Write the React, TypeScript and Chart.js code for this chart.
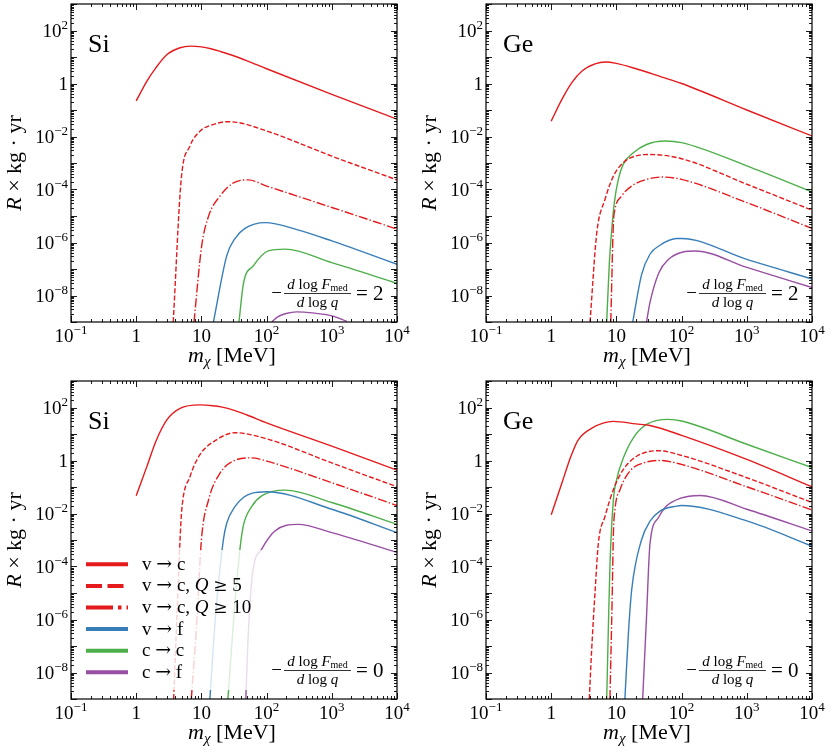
import React, { useEffect, useRef } from 'react';
import { Chart, registerables } from 'chart.js';

Chart.register(...registerables);

type Pt = [number, number]; // [m_chi in MeV, R x kg.yr]

// axis limits
const X_MIN = 1e-1;
const X_MAX = 1e4;
const Y_MIN = 1e-9;
const Y_MAX = 1e3;

const xTickExps = [-1, 0, 1, 2, 3, 4];
const yTickExps = [2, 0, -2, -4, -6, -8];

const legendLabels = [
  'v \u2192 c',
  'v \u2192 c, Q \u2265 5',
  'v \u2192 c, Q \u2265 10',
  'v \u2192 f',
  'c \u2192 c',
  'c \u2192 f',
];

// Si, -dlogF/dlogq = 2
const siS2Vc: Pt[] = [[1, 2.2e-1], [1.46, 1.23], [2, 3.9], [3, 12.6], [4.7, 22.4], [6.8, 25.7], [10, 24], [14, 20.4], [20, 15.8], [32.7, 10.7], [50, 7.2], [100, 3.6], [1000, 3.9e-1], [1e4, 4.5e-2]];
const siS2Q5: Pt[] = [[3.7, 1e-9], [4.9, 2.4e-4], [6.7, 4.4e-3], [9.6, 1.62e-2], [15, 2.8e-2], [24.5, 3.6e-2], [32.7, 3.5e-2], [100, 1.62e-2], [1000, 1.82e-3], [1e4, 2.3e-4]];
const siS2Q10: Pt[] = [[7.7, 1e-9], [10.1, 7.4e-7], [12.9, 1e-5], [19.4, 5.75e-5], [31, 1.78e-4], [52, 2.3e-4], [100, 1.35e-4], [1000, 2.1e-5], [1e4, 3.2e-6]];
const siS2Vf: Pt[] = [[15.3, 1e-9], [24.5, 3.2e-7], [32.7, 1.41e-6], [46.6, 3.4e-6], [95, 5.6e-6], [300, 3.0e-6], [1000, 1.15e-6], [1e4, 1.51e-7]];
const siS2Cc: Pt[] = [[37.7, 1e-9], [44, 2.7e-8], [62.5, 1.32e-7], [106, 4.8e-7], [192, 5.6e-7], [1000, 1.74e-7], [1e4, 2.9e-8]];
const siS2Cf: Pt[] = [[120, 1e-9], [150, 1.6e-9], [200, 2.1e-9], [289, 2.4e-9], [500, 2.2e-9], [1000, 1.7e-9], [1700, 1.05e-9]];

// Ge, -dlogF/dlogq = 2
const geS2Vc: Pt[] = [[1, 3.8e-2], [1.46, 2.5e-1], [2.07, 1.07], [2.97, 2.95], [4.7, 5.5], [6.7, 6.5], [10, 5.75], [20, 3.6], [50, 1.74], [100, 1.0], [1000, 1e-1], [1e4, 1.05e-2]];
const geS2Q5: Pt[] = [[3.94, 1e-9], [5.0, 2.3e-6], [6.7, 4.3e-5], [9.0, 3.2e-4], [12.7, 1.02e-3], [19.3, 1.82e-3], [32.6, 2.1e-3], [100, 1.45e-3], [1000, 1.58e-4], [1e4, 1.66e-5]];
const geS2Q10: Pt[] = [[8.2, 1e-9], [9.0, 5.6e-6], [9.5, 1.78e-5], [12, 5.6e-5], [17.1, 1.35e-4], [29, 2.4e-4], [52, 2.95e-4], [100, 2.4e-4], [1000, 3.2e-5], [1e4, 3.4e-6]];
const geS2Vf: Pt[] = [[17.8, 1e-9], [24.4, 6.3e-8], [32.7, 3.6e-7], [46.6, 7.9e-7], [84, 1.41e-6], [100, 1.41e-6], [1000, 2.3e-7], [1e4, 4.2e-8]];
const geS2Cc: Pt[] = [[7.1, 1e-9], [7.8, 1.74e-7], [8.5, 3.2e-6], [9.3, 3.2e-5], [10.7, 2.4e-4], [12.7, 8.9e-4], [18.2, 2.45e-3], [29, 5.0e-3], [55, 6.8e-3], [100, 5.9e-3], [1000, 7.8e-4], [1e4, 8.1e-5]];
const geS2Cf: Pt[] = [[29, 1e-9], [32.7, 5.4e-9], [45, 7.4e-8], [62.7, 2.3e-7], [105, 4.4e-7], [162, 4.8e-7], [1000, 1.15e-7], [1e4, 2.0e-8]];

// Si, -dlogF/dlogq = 0
const siS0Vc: Pt[] = [[1, 4.7e-2], [1.46, 6.0e-1], [2, 5.25], [2.97, 34.7], [4.7, 93], [9.5, 126], [15, 117], [20, 105], [32.7, 76], [50, 52], [100, 26.3], [1000, 3.47], [1e4, 4.3e-1]];
const siS0Q5: Pt[] = [[3.75, 1e-9], [4.18, 7.9e-7], [4.7, 1e-3], [5.0, 1.38e-2], [6.7, 2.5e-1], [9.5, 1.66], [17, 6.0], [32.7, 11.2], [100, 6.6], [1000, 8.1e-1], [1e4, 1.02e-1]];
const siS0Q10: Pt[] = [[7.0, 1e-9], [8.5, 7.9e-7], [10.0, 1e-3], [12.9, 3.3e-2], [19.4, 3.4e-1], [32.7, 1.02], [59, 1.26], [100, 9.5e-1], [1000, 1.45e-1], [1e4, 2.0e-2]];
const siS0Vf: Pt[] = [[13.5, 1e-9], [16.2, 7.9e-7], [21.7, 1e-3], [24.5, 4.4e-3], [32.7, 1.82e-2], [44, 4.0e-2], [59, 5.75e-2], [100, 6.6e-2], [1000, 1.45e-2], [1e4, 1.9e-3]];
const siS0Cc: Pt[] = [[25.5, 1e-9], [31, 7.9e-7], [39, 4.5e-4], [44, 3.5e-3], [59, 1.82e-2], [84, 4.6e-2], [192, 7.6e-2], [1000, 2.6e-2], [1e4, 3.9e-3]];
const siS0Cf: Pt[] = [[48, 1e-9], [52, 2.0e-7], [61, 5.6e-5], [84, 4.5e-4], [134, 2.2e-3], [305, 3.9e-3], [1000, 1.9e-3], [1e4, 3.4e-4]];

// Ge, -dlogF/dlogq = 0
const geS0Vc: Pt[] = [[1, 8.9e-3], [1.46, 1.41e-1], [2, 1.41], [2.6, 6.0], [4.2, 16.6], [9, 30], [20, 24], [32.7, 20.9], [100, 8.9], [1000, 1.1], [1e4, 1.02e-1]];
const geS0Q5: Pt[] = [[3.84, 1e-9], [4.18, 7.6e-8], [4.7, 1.05e-5], [5.3, 7.9e-4], [6.7, 7.9e-3], [9.0, 8.1e-2], [12.8, 4.6e-1], [20.5, 1.45], [44, 2.34], [100, 1.55], [1000, 2.24e-1], [1e4, 2.6e-2]];
const geS0Q10: Pt[] = [[7.96, 1e-9], [8.6, 5.75e-6], [9.0, 1.9e-3], [9.5, 1.45e-2], [11.4, 8.1e-2], [16.1, 4.0e-1], [26, 8.1e-1], [46.6, 1.0], [100, 7.1e-1], [1000, 1.02e-1], [1e4, 1.35e-2]];
const geS0Vf: Pt[] = [[13.5, 1e-9], [15.3, 3.2e-7], [17.2, 1.38e-5], [24.4, 1.05e-3], [32.7, 5.1e-3], [46.6, 1.23e-2], [84, 1.9e-2], [100, 2.0e-2], [1000, 5.25e-3], [1e4, 5.9e-4]];
const geS0Cc: Pt[] = [[7.1, 1e-9], [7.5, 3.2e-7], [7.96, 1.05e-4], [9.0, 3.4e-2], [10.1, 1.95e-1], [12.8, 1.26], [18.2, 7.2], [29, 22.9], [62.5, 35.5], [100, 30.9], [1000, 4.1], [1e4, 5.4e-1]];
const geS0Cf: Pt[] = [[25.3, 1e-9], [29, 1.35e-6], [32.7, 6.9e-4], [44, 6.9e-3], [58.5, 1.9e-2], [94, 3.7e-2], [192, 4.8e-2], [1000, 1.45e-2], [1e4, 2.2e-3]];

const RED = '#e41a1c';
const BLUE = '#377eb8';
const GREEN = '#4daf4a';
const PURPLE = '#984ea3';

// same order as legendLabels
const curveStyles = [
  { color: RED, dash: [] as number[], legendDash: [] as number[] },
  { color: RED, dash: [5, 2.2], legendDash: [16, 5.5] },
  { color: RED, dash: [9, 2.2, 1.4, 2.2], legendDash: [27, 5, 3.5, 5] },
  { color: BLUE, dash: [], legendDash: [] },
  { color: GREEN, dash: [], legendDash: [] },
  { color: PURPLE, dash: [], legendDash: [] },
];

const SERIF = '"Liberation Serif", "DejaVu Serif", serif';
const ARROW_FONT = '"DejaVu Serif", serif';

type Run = { t: string; size: number; italic?: boolean; dy?: number; family?: string };

function setFont(ctx: CanvasRenderingContext2D, r: Run) {
  ctx.font = `${r.italic ? 'italic ' : ''}${r.size}px ${r.family || SERIF}`;
}

function runsWidth(ctx: CanvasRenderingContext2D, runs: Run[]) {
  let w = 0;
  for (const r of runs) {
    setFont(ctx, r);
    w += ctx.measureText(r.t).width;
  }
  return w;
}

function drawRuns(ctx: CanvasRenderingContext2D, runs: Run[], x: number, y: number) {
  let cx = x;
  for (const r of runs) {
    setFont(ctx, r);
    ctx.fillText(r.t, cx, y + (r.dy || 0));
    cx += ctx.measureText(r.t).width;
  }
}

function powRuns(e: number): Run[] {
  if (e === 0) return [{ t: '1', size: 19 }];
  if (e === 1) return [{ t: '10', size: 19 }];
  return [
    { t: '10', size: 19 },
    { t: (e < 0 ? '\u2212' : '') + Math.abs(e), size: 13, dy: -8 },
  ];
}

// legend text: Q in italics, arrows from a font with a longer arrow
function legendRuns(label: string): Run[] {
  const runs: Run[] = [];
  for (const ch of label.split(/(Q|\u2192|\u2265)/)) {
    if (!ch) continue;
    if (ch === 'Q') runs.push({ t: 'Q', size: 19, italic: true });
    else if (ch === '\u2192') runs.push({ t: '\u2192', size: 19, family: ARROW_FONT });
    else if (ch === '\u2265') runs.push({ t: '\u2265', size: 17, family: ARROW_FONT });
    else runs.push({ t: ch, size: 19 });
  }
  return runs;
}

const paperAxes = {
  id: 'paperAxes',
  afterDraw(chart: any, _args: any, opts: any) {
    const ctx: CanvasRenderingContext2D = chart.ctx;
    const a = chart.chartArea;
    const xs = chart.scales.x;
    const ys = chart.scales.y;
    ctx.save();
    ctx.fillStyle = '#000';
    ctx.strokeStyle = '#000';
    ctx.textBaseline = 'alphabetic';
    ctx.setLineDash([]);

    // inward ticks on all four sides
    ctx.lineWidth = 0.9;
    ctx.beginPath();
    for (let e = -1; e <= 4; e++) {
      for (let k = 1; k <= 9; k++) {
        const v = k * Math.pow(10, e);
        if (v > X_MAX * 1.0001) break;
        const px = Math.round(xs.getPixelForValue(v)) + 0.5;
        const len = k === 1 ? 6 : 3;
        ctx.moveTo(px, a.bottom);
        ctx.lineTo(px, a.bottom - len);
        ctx.moveTo(px, a.top);
        ctx.lineTo(px, a.top + len);
      }
    }
    for (let e = -9; e <= 3; e++) {
      for (let k = 1; k <= 9; k++) {
        const v = k * Math.pow(10, e);
        if (v > Y_MAX * 1.0001) break;
        const py = Math.round(ys.getPixelForValue(v)) + 0.5;
        const len = k === 1 ? 6 : 3;
        ctx.moveTo(a.left, py);
        ctx.lineTo(a.left + len, py);
        ctx.moveTo(a.right, py);
        ctx.lineTo(a.right - len, py);
      }
    }
    ctx.stroke();

    ctx.lineWidth = 1.2;
    ctx.strokeRect(a.left, a.top, a.right - a.left, a.bottom - a.top);

    // tick labels
    for (const e of xTickExps) {
      const runs = powRuns(e);
      const px = xs.getPixelForValue(Math.pow(10, e));
      drawRuns(ctx, runs, px - runsWidth(ctx, runs) / 2, a.bottom + 20);
    }
    for (const e of yTickExps) {
      const runs = powRuns(e);
      const py = ys.getPixelForValue(Math.pow(10, e));
      drawRuns(ctx, runs, a.left - 3 - runsWidth(ctx, runs), py + 6.5);
    }

    // axis titles
    const xTitle: Run[] = [
      { t: 'm', size: 22, italic: true },
      { t: '\u03c7', size: 15, italic: true, dy: 4 },
      { t: ' [MeV]', size: 22 },
    ];
    drawRuns(ctx, xTitle, 232 - runsWidth(ctx, xTitle) / 2, a.bottom + 40);
    const yTitle: Run[] = [
      { t: 'R', size: 22, italic: true },
      { t: ' \u00d7 kg \u00b7 yr', size: 22 },
    ];
    ctx.save();
    ctx.translate(21, 163);
    ctx.rotate(-Math.PI / 2);
    drawRuns(ctx, yTitle, -runsWidth(ctx, yTitle) / 2, 0);
    ctx.restore();

    // target label
    drawRuns(ctx, [{ t: opts.element, size: 26 }], a.left + 17, a.top + 48);

    // -dlogF_med/dlogq annotation
    const barL = 284;
    const barR = 351;
    const barY = a.top + 289.5;
    const mid = (barL + barR) / 2;
    const minus: Run[] = [{ t: '\u2212', size: 19 }];
    drawRuns(ctx, minus, barL - 2 - runsWidth(ctx, minus), barY + 5.5);
    const num: Run[] = [
      { t: 'd', size: 15, italic: true },
      { t: ' log ', size: 15 },
      { t: 'F', size: 15, italic: true },
      { t: 'med', size: 10, dy: 2 },
    ];
    drawRuns(ctx, num, mid - runsWidth(ctx, num) / 2, barY - 4.5);
    const den: Run[] = [
      { t: 'd', size: 15, italic: true },
      { t: ' log ', size: 15 },
      { t: 'q', size: 15, italic: true },
    ];
    drawRuns(ctx, den, mid - runsWidth(ctx, den) / 2, barY + 13);
    ctx.lineWidth = 0.8;
    ctx.beginPath();
    ctx.moveTo(barL, barY);
    ctx.lineTo(barR, barY);
    ctx.stroke();
    drawRuns(ctx, [{ t: '= ' + opts.slope, size: 21 }], 356, barY + 6);

    // legend
    if (opts.legend) {
      ctx.fillStyle = 'rgba(255,255,255,0.8)';
      ctx.fillRect(78, a.top + 169, 186, 140);
      legendLabels.forEach((label, i) => {
        const y = a.top + 183.3 + i * 21.6;
        const st = curveStyles[i];
        ctx.strokeStyle = st.color;
        ctx.lineWidth = 4;
        ctx.lineCap = 'butt';
        ctx.setLineDash(st.legendDash);
        ctx.beginPath();
        ctx.moveTo(86, y);
        ctx.lineTo(128, y);
        ctx.stroke();
        ctx.setLineDash([]);
        ctx.fillStyle = '#000';
        drawRuns(ctx, legendRuns(label), 142, y + 5.5);
      });
    }
    ctx.restore();
  },
};

type PanelProps = {
  curves: Pt[][];
  element: string;
  slope: string;
  legend?: boolean;
  left: number;
  top: number;
};

function Panel({ curves, element, slope, legend = false, left, top }: PanelProps) {
  const canvasRef = useRef<HTMLCanvasElement | null>(null);

  useEffect(() => {
    if (!canvasRef.current) return;
    const chart = new Chart(canvasRef.current, {
      type: 'line',
      data: {
        datasets: curves.map((c, i) => ({
          label: legendLabels[i],
          data: c.map(([x, y]) => ({ x, y })),
          borderColor: curveStyles[i].color,
          borderDash: curveStyles[i].dash,
          borderWidth: 1.4,
          pointRadius: 0,
          fill: false,
          cubicInterpolationMode: 'monotone' as const,
        })),
      },
      options: {
        responsive: false,
        animation: false,
        events: [],
        layout: { padding: { left: 71, top: 4, right: 18, bottom: 55 } },
        scales: {
          x: { type: 'logarithmic', min: X_MIN, max: X_MAX, display: false },
          y: { type: 'logarithmic', min: Y_MIN, max: Y_MAX, display: false },
        },
        plugins: {
          legend: { display: false },
          tooltip: { enabled: false },
          // @ts-ignore custom plugin options
          paperAxes: { element, slope, legend },
        },
      },
      plugins: [paperAxes],
    });
    return () => chart.destroy();
  }, [curves, element, slope, legend]);

  return (
    <canvas
      ref={canvasRef}
      width={415}
      height={377}
      style={{ position: 'absolute', left, top, width: 415, height: 377 }}
    />
  );
}

const siS2 = [siS2Vc, siS2Q5, siS2Q10, siS2Vf, siS2Cc, siS2Cf];
const geS2 = [geS2Vc, geS2Q5, geS2Q10, geS2Vf, geS2Cc, geS2Cf];
const siS0 = [siS0Vc, siS0Q5, siS0Q10, siS0Vf, siS0Cc, siS0Cf];
const geS0 = [geS0Vc, geS0Q5, geS0Q10, geS0Vf, geS0Cc, geS0Cf];

export default function App() {
  return (
    <div style={{ position: 'absolute', left: 0, top: 0, width: 830, height: 754, background: '#fff' }}>
      <Panel curves={siS2} element="Si" slope="2" left={0} top={0} />
      <Panel curves={geS2} element="Ge" slope="2" left={415} top={0} />
      <Panel curves={siS0} element="Si" slope="0" legend left={0} top={377} />
      <Panel curves={geS0} element="Ge" slope="0" left={415} top={377} />
    </div>
  );
}
